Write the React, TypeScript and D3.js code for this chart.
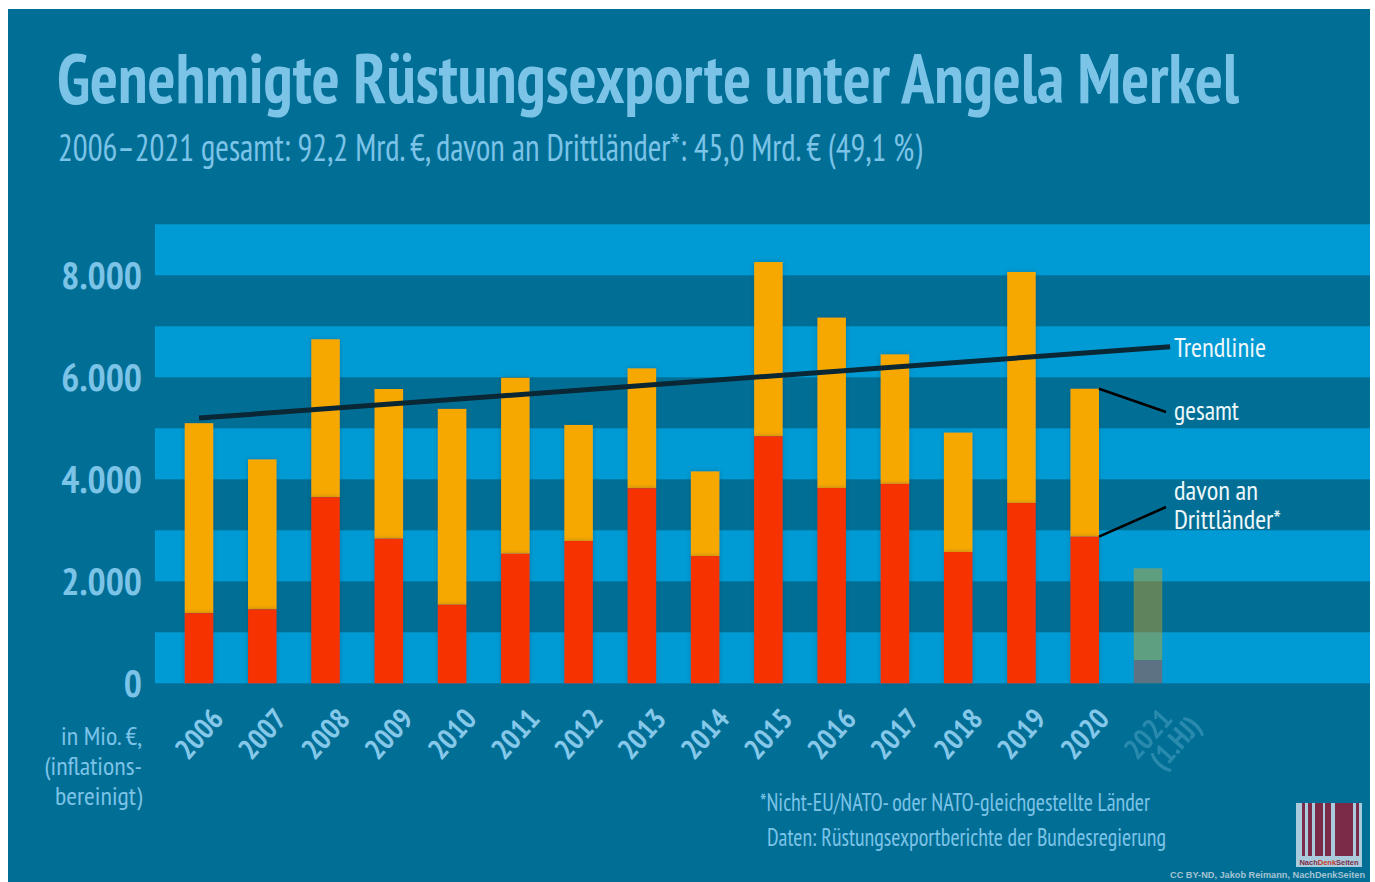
import React, { useEffect } from "react";
import * as d3 from "d3";

const years = [2006, 2007, 2008, 2009, 2010, 2011, 2012, 2013, 2014, 2015, 2016, 2017, 2018, 2019, 2020, 2021];
const yearLabels = ["2006", "2007", "2008", "2009", "2010", "2011", "2012", "2013", "2014", "2015", "2016", "2017", "2018", "2019", "2020", "2021"];
const totalValues = [5100, 4390, 6745, 5770, 5380, 5990, 5065, 6175, 4155, 8260, 7170, 6450, 4915, 8065, 5775, 2255];
const thirdValues = [1375, 1450, 3650, 2835, 1540, 2540, 2790, 3825, 2495, 4845, 3830, 3910, 2575, 3535, 2875, 455];
const trendYears = [2006, 2021.35];
const trendValues = [5200, 6600];
const yTicks = [0, 2000, 4000, 6000, 8000];
const bandStarts = [0, 2000, 4000, 6000, 8000];

const TITLE = "Genehmigte Rüstungsexporte unter Angela Merkel";
const SUBTITLE = "2006–2021 gesamt: 92,2 Mrd. €, davon an Drittländer*: 45,0 Mrd. € (49,1 %)";

const FONT = "'PT Sans Narrow', 'Liberation Sans Narrow', 'DejaVu Sans Condensed', 'Open Sans', sans-serif";
const PANEL = "#016f95";
const BAND = "#009bd4";
const LIGHT = "#7cc3e8";
const ORANGE = "#f7a800";
const RED = "#f53000";

const de = d3.formatLocale({ decimal: ",", thousands: ".", grouping: [3], currency: ["", "€"] });
const fmt = de.format(",");

export default function App() {
  useEffect(() => {
    document.body.style.margin = "0";
  }, []);

  const W = 1375;
  const H = 882;
  const x = d3.scaleLinear().domain([2006, 2021]).range([199, 1148]);
  const y = d3.scaleLinear().domain([0, 9000]).range([683.3, 224.3]);
  const barW = 28.5;
  const lastIdx = 14;
  const trendLine = d3.line<number>().x((_, i) => x(trendYears[i])).y((v) => y(v));

  return (
    <svg width={W} height={H} style={{ display: "block", background: "#fff" }}>
      <defs>
        <filter id="glow" x="-30%" y="-10%" width="160%" height="120%">
          <feDropShadow dx="0" dy="0" stdDeviation="2" floodColor="#003a55" floodOpacity="0.35" />
        </filter>
      </defs>
      <rect x={8} y={9} width={1362} height={H - 9} fill={PANEL} />

      <text x={57} y={103} fontFamily={FONT} fontWeight="bold" fontSize={70} fill={LIGHT}
        textLength={1182} lengthAdjust="spacingAndGlyphs">{TITLE}</text>
      <text x={58} y={161} fontFamily={FONT} fontSize={38} fill={LIGHT}
        textLength={864} lengthAdjust="spacingAndGlyphs">{SUBTITLE}</text>

      {bandStarts.map((b) => (
        <rect key={b} x={155} y={y(b + 1000)} width={1370 - 155} height={y(b) - y(b + 1000)} fill={BAND} />
      ))}

      {yTicks.map((t) => (
        <text key={t} x={142} y={y(t)} dy="0.35em" textAnchor="end" fontFamily={FONT} fontWeight="bold"
          fontSize={38} fill={LIGHT}>{fmt(t)}</text>
      ))}

      {years.map((yr, i) => {
        const faded = yr === 2021;
        return (
          <g key={yr} opacity={faded ? 0.38 : 1}>
            <rect x={x(yr) - barW / 2} y={y(totalValues[i])} width={barW} height={y(thirdValues[i]) - y(totalValues[i])}
              fill={ORANGE} filter={faded ? undefined : "url(#glow)"} />
            <rect x={x(yr) - barW / 2} y={y(thirdValues[i])} width={barW} height={y(0) - y(thirdValues[i])}
              fill={RED} filter={faded ? undefined : "url(#glow)"} />
          </g>
        );
      })}

      <path d={trendLine(trendValues) || ""} stroke="#0a2736" strokeWidth={5} fill="none" />

      <line x1={x(years[lastIdx]) + barW / 2} y1={y(totalValues[lastIdx])} x2={1166} y2={412}
        stroke="#000" strokeWidth={2.5} />
      <line x1={x(years[lastIdx]) + barW / 2} y1={y(thirdValues[lastIdx])} x2={1166} y2={507}
        stroke="#000" strokeWidth={2.5} />

      <g fontFamily={FONT} fontSize={28} fill="#eef7fb">
        <text x={1174} y={357} textLength={92} lengthAdjust="spacingAndGlyphs">Trendlinie</text>
        <text x={1174} y={420} textLength={65} lengthAdjust="spacingAndGlyphs">gesamt</text>
        <text x={1174} y={500} textLength={84} lengthAdjust="spacingAndGlyphs">davon an</text>
        <text x={1174} y={529} textLength={107} lengthAdjust="spacingAndGlyphs">Drittländer*</text>
      </g>

      {years.map((yr, i) => {
        const faded = yr === 2021;
        const cx = x(yr);
        return (
          <g key={"l" + yr} transform={`translate(${cx + 26},${720}) rotate(-48)`}
            fontFamily={FONT} fontWeight="600" fontSize={29} fill="#86c8ea" opacity={faded ? 0.3 : 1}>
            <text x={0} y={0} textAnchor="end">{yearLabels[i]}</text>
            {faded && <text x={14} y={26} textAnchor="end">(1.HJ)</text>}
          </g>
        );
      })}

      <g fontFamily={FONT} fontSize={26} fill={LIGHT} textAnchor="end">
        <text x={142} y={745}>in Mio. €,</text>
        <text x={142} y={775}>(inflations-</text>
        <text x={142} y={805}>bereinigt)</text>
      </g>

      <g fontFamily={FONT} fontSize={25} fill={LIGHT}>
        <text x={760} y={811} textLength={390} lengthAdjust="spacingAndGlyphs">*Nicht-EU/NATO- oder NATO-gleichgestellte Länder</text>
        <text x={767} y={846} textLength={399} lengthAdjust="spacingAndGlyphs">Daten: Rüstungsexportberichte der Bundesregierung</text>
      </g>

      <g transform="translate(1296,803)">
        <rect x={0} y={0} width={66} height={64} fill="#a9cbdc" />
        {[[6, 3], [12, 4], [19, 8], [29, 6], [39, 18], [60, 3]].map(([bx, bw], k) => (
          <rect key={k} x={bx} y={0} width={bw} height={53} fill="#7b2b47" />
        ))}
        <text x={33} y={62} textAnchor="middle" fontFamily="'Liberation Sans', Arial, sans-serif" fontWeight="bold"
          fontSize={7.5} fill="#7b2b47">Nach<tspan fill="#c0392b">Denk</tspan>Seiten</text>
      </g>
      <text x={1365} y={878} textAnchor="end" fontFamily="'Liberation Sans', Arial, sans-serif" fontWeight="bold"
        fontSize={9.5} fill="#a6c3d2" textLength={195} lengthAdjust="spacingAndGlyphs">CC BY-ND, Jakob Reimann, NachDenkSeiten</text>
    </svg>
  );
}
